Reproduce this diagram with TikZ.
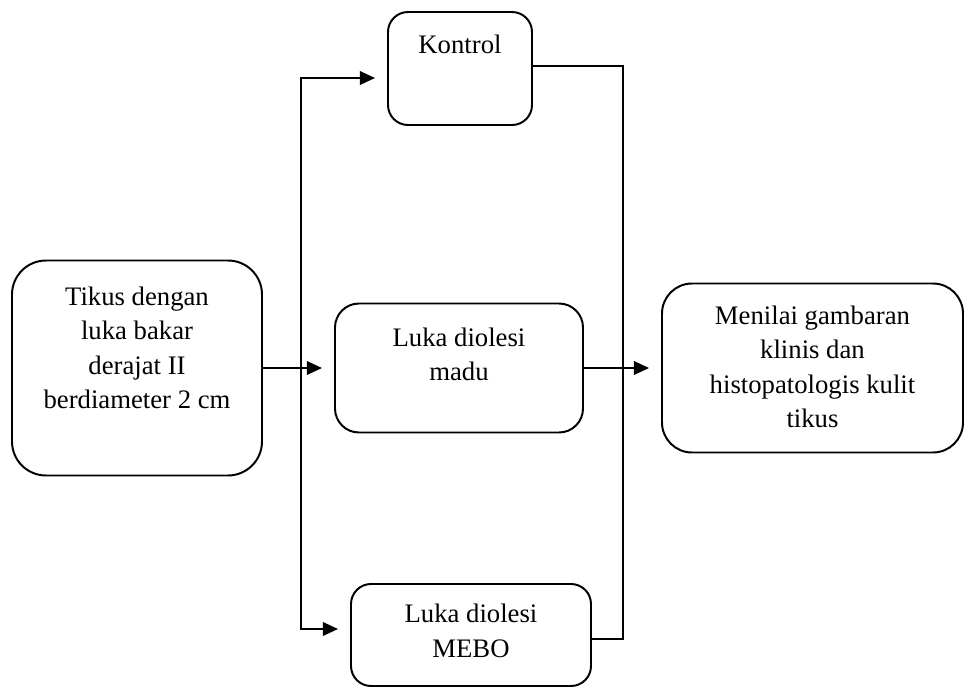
\documentclass[tikz,border=0pt]{standalone}
\usepackage{fontspec}
\setmainfont{Liberation Serif}
\usetikzlibrary{arrows.meta}

\begin{document}
\begin{tikzpicture}[font=\fontsize{19}{24.5}\selectfont,
	box/.style={draw, line width=1.4pt, align=center, inner xsep=0pt, inner ysep=0pt},
	arr/.style={-{Triangle[length=0.38cm,width=0.34cm]}, line width=1.4pt, shorten >=0.3cm},
	line/.style={line width=1.4pt}]

	\useasboundingbox (0,0) rectangle (24.1,-17.2);

	\node[box, rounded corners=0.85cm, minimum width=6.25cm, text height=3.7cm, text depth=1.675cm] (tikus) at (3.425,-9.2) {Tikus dengan\\luka bakar\\derajat II\\berdiameter 2 cm};

	\node[box, rounded corners=0.5cm, minimum width=3.6cm, text height=1.025cm, text depth=1.8cm] (kontrol) at (11.5,-1.7125) {Kontrol};
	\node[box, rounded corners=0.6cm, minimum width=6.2cm, text height=1.925cm, text depth=1.3cm] (madu) at (11.475,-9.2) {Luka diolesi\\madu};
	\node[box, rounded corners=0.5cm, minimum width=6cm, text height=1.825cm, text depth=0.725cm] (mebo) at (11.775,-15.875) {Luka diolesi\\MEBO};

	\node[box, rounded corners=0.75cm, minimum width=7.525cm, text height=3.6cm, text depth=0.625cm] (nilai) at (20.3125,-9.2) {Menilai gambaran\\klinis dan\\histopatologis kulit\\tikus};

	\coordinate (fork) at (7.525,-9.2);
	\coordinate (up) at (7.525,-1.95);
	\coordinate (down) at (7.525,-15.725);
	\coordinate (join1) at (15.575,-1.65);
	\coordinate (join2) at (15.575,-15.975);

	\draw[arr] (tikus.east) -- (tikus.east -| madu.west);
	\draw[arr] (fork) -- (up) -- (up -| kontrol.west);
	\draw[arr] (fork) -- (down) -- (down -| mebo.west);

	\draw[line] (kontrol.east |- join1) -- (join1) -- (join2) -- (mebo.east |- join2);
	\draw[arr] (madu.east) -- (madu.east -| nilai.west);

\end{tikzpicture}
\end{document}
